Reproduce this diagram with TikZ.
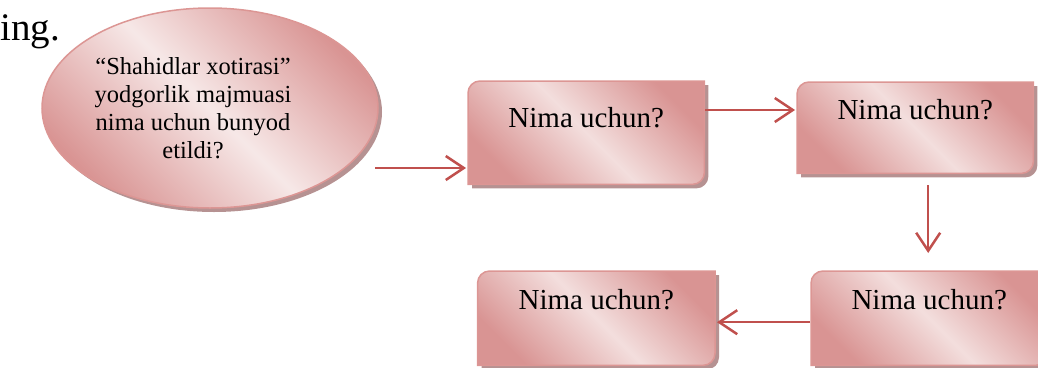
\documentclass[tikz,border=0pt]{standalone}
\usepackage{fontspec}
\setmainfont{Liberation Serif}
\usetikzlibrary{positioning,shapes.geometric,arrows.meta,backgrounds,shadows}

\definecolor{qdark}{RGB}{217,148,147}
\definecolor{qlight}{RGB}{243,222,221}
\definecolor{qedge}{RGB}{220,150,148}
\definecolor{qshadow}{RGB}{182,146,146}
\definecolor{qred}{RGB}{192,80,77}

% box outline: round top left and bottom right corners only
\newcommand\qpath[2]{([shift={(#2)},yshift=-12pt]#1.north west)
  arc[start angle=180,end angle=90,radius=12pt] -- ([shift={(#2)}]#1.north east)
  -- ([shift={(#2)},yshift=12pt]#1.south east)
  arc[start angle=0,end angle=-90,radius=12pt] -- ([shift={(#2)}]#1.south west) -- cycle}

\tikzset{
  qshade/.style={top color=qdark, bottom color=qdark, middle color=qlight,
    shading angle=-45, draw=qedge, line width=1.5pt},
  qbox/.style 2 args={minimum width=236pt, text height=#1, text depth=#2,
    inner sep=0pt, font=\fontsize{29}{34}\selectfont},
  qoval/.style={ellipse, qshade, middle color=qlight!70!white, minimum width=336pt, minimum height=200pt,
    inner sep=0pt, drop shadow={shadow xshift=4pt, shadow yshift=-4pt, fill=qshadow, opacity=1}},
  qtext/.style={align=center, inner sep=0pt, font=\fontsize{24.5}{28}\selectfont},
  qarrow/.style={draw=qred, line width=2.5pt, -{Straight Barb[length=18pt,width=24pt]}},
}

\begin{document}
\begin{tikzpicture}[x=1pt, y=-1pt]
  \useasboundingbox (0,0) rectangle (1038,367);

  \node[anchor=base west, inner sep=0pt, font=\fontsize{39}{47}\selectfont] (ing) at (0,40) {ing.};

  \node[qoval] (q) at (210,108) {};
  \node[qtext] (qt) at (193,108) {“Shahidlar xotirasi”\\yodgorlik majmuasi\\nima uchun bunyod\\etildi?};

  \node[qbox={46.5pt}{56.5pt}, anchor=north west] (b1) at (468,81) {Nima uchun?};
  \node[qbox={37.5pt}{53.5pt}, anchor=north west] (b2) at (797,82) {Nima uchun?};
  \node[qbox={38.5pt}{55.5pt}, minimum width=236pt, anchor=north west] (b3) at (811,271) {Nima uchun?};
  \node[qbox={38.5pt}{55.5pt}, minimum width=237pt, left=96pt of b3] (b4) {Nima uchun?};

  \begin{scope}[on background layer]
    \foreach \b in {b1,b2,b3,b4} {
      \fill[qshadow] \qpath{\b}{4pt,-4pt};
      \shadedraw[qshade] \qpath{\b}{0pt,0pt};
    }
  \end{scope}

  \coordinate (s) at (375,168);
  \draw[qarrow, shorten >=2pt] (s) -- (s -| b1.west);
  \draw[qarrow, shorten <=1pt, shorten >=2pt] ([yshift=-28pt]b1.north east |- b2.north west) -- ([yshift=-28pt]b2.north west);
  \draw[qarrow, shorten <=12pt, shorten >=18pt] ([xshift=13pt]b2.south) -- ([xshift=13pt]b2.south |- b3.north);
  \draw[qarrow, shorten <=1pt, shorten >=2pt] ([yshift=-4pt]b3.west) -- ([yshift=-4pt]b4.east);
\end{tikzpicture}
\end{document}
